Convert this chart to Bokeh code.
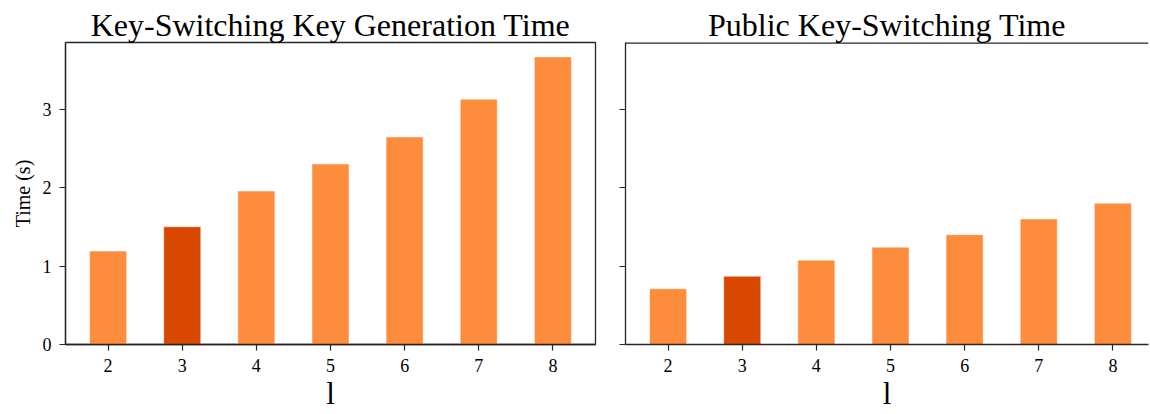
from bokeh.plotting import figure
from bokeh.models import Range1d, FixedTicker, Span
from bokeh.layouts import row
from bokeh.embed import file_html
from bokeh.resources import INLINE

# ---- data ----
categories = ["2", "3", "4", "5", "6", "7", "8"]
keygen_times = [1.19, 1.50, 1.955, 2.30, 2.645, 3.125, 3.665]
keyswitch_times = [0.71, 0.87, 1.075, 1.24, 1.40, 1.60, 1.80]
highlight = "3"
titles = ["Key-Switching Key Generation Time", "Public Key-Switching Time"]
x_label = "l"
y_label = "Time (s)"
y_ticks = [0, 1, 2, 3]

# ---- style ----
FONT = "Liberation Serif"
LIGHT = "#fd8d3c"
DARK = "#d94801"
EDGE = "#262626"
BAR_W = 0.5

n = len(categories)
idx = list(range(n))
colors = [DARK if c == highlight else LIGHT for c in categories]
span = (n - 1) + BAR_W
pad = 0.05 * span
x_start = -BAR_W / 2 - pad
x_end = (n - 1) + BAR_W / 2 + pad
y_end = max(keygen_times + keyswitch_times) * 1.05

FRAME_W1 = 530
FRAME_W2 = 523
FRAME_H = 302
TOP = 42
H = 413


def make(title, values, left_border, width, right_border, show_ylabels, x_end_val, outline):
    p = figure(width=width, height=H, output_backend="svg", toolbar_location=None,
               x_range=Range1d(x_start, x_end_val), y_range=Range1d(0, y_end),
               min_border_left=left_border, min_border_right=right_border,
               min_border_top=TOP, min_border_bottom=H - TOP - FRAME_H,
               title=title)
    p.vbar(x=idx, top=values, width=BAR_W, fill_color=colors,
           line_color="white", line_alpha=0.5, line_width=1)
    p.title.text_font = FONT
    p.title.text_font_size = "32px"
    p.title.text_font_style = "normal"
    p.title.text_color = "black"
    p.title.align = "center"
    p.title.standoff = 0
    p.title.offset = 0
    p.xgrid.visible = False
    p.ygrid.visible = False
    p.background_fill_color = "white"
    p.border_fill_color = "white"
    if outline:
        p.outline_line_color = EDGE
        p.outline_line_width = 1.3
    else:
        p.outline_line_color = None
        p.add_layout(Span(location=y_end, dimension="width", line_color=EDGE, line_width=2.6))
    for ax in (p.xaxis[0], p.yaxis[0]):
        ax.axis_line_color = EDGE
        ax.axis_line_width = 1.3
        ax.major_tick_line_color = EDGE
        ax.major_tick_line_width = 1.2
        ax.major_tick_in = 0
        ax.major_tick_out = 6
        ax.minor_tick_line_color = None
        ax.major_label_text_font = FONT
        ax.major_label_text_font_size = "18px"
        ax.major_label_text_color = "black"
        ax.axis_label_text_font = FONT
        ax.axis_label_text_font_style = "normal"
        ax.axis_label_text_color = "black"
    p.xaxis.ticker = FixedTicker(ticks=idx)
    p.xaxis.major_label_overrides = {i: c for i, c in enumerate(categories)}
    p.xaxis.major_label_standoff = 8
    p.xaxis.axis_label = x_label
    p.xaxis.axis_label_text_font_size = "31px"
    p.xaxis.axis_label_standoff = 1
    p.yaxis.ticker = FixedTicker(ticks=y_ticks)
    if show_ylabels:
        p.yaxis.axis_label = y_label
        p.yaxis.axis_label_text_font_size = "20px"
        p.yaxis.major_label_standoff = 8
        p.yaxis.axis_label_standoff = 6
    else:
        p.yaxis.major_label_overrides = {t: "" for t in y_ticks}
        p.yaxis.major_label_standoff = 0
    return p


w1 = 65 + FRAME_W1 + 2
p1 = make(titles[0], keygen_times, 65, w1, 2, True, x_end, True)
x_end2 = x_start + (x_end - x_start) * FRAME_W2 / FRAME_W1
w2 = 28 + FRAME_W2 + 1
p2 = make(titles[1], keyswitch_times, 28, w2, 1, False, x_end2, False)

layout = row(p1, p2)
open("out.html", "w").write(file_html(layout, INLINE))
